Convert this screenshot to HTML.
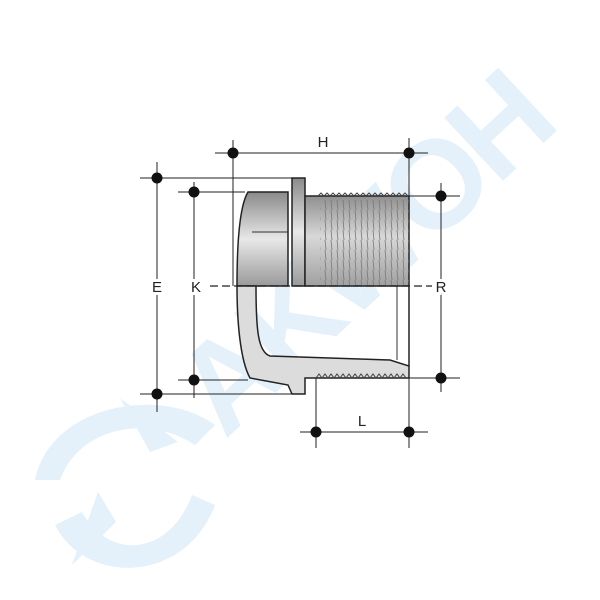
<!DOCTYPE html>
<html><head><style>body{margin:0;background:#fff}svg{display:block}</style></head>
<body>
<svg width="600" height="600" viewBox="0 0 600 600" xmlns="http://www.w3.org/2000/svg" font-family="Liberation Sans, sans-serif">
<defs>
<linearGradient id="nut" x1="0" x2="0" y1="0" y2="1"><stop offset="0" stop-color="#8a8a8a"/><stop offset="0.5" stop-color="#e8e8e8"/><stop offset="1" stop-color="#9a9a9a"/></linearGradient>
<linearGradient id="thr" x1="0" x2="0" y1="0" y2="1"><stop offset="0" stop-color="#909090"/><stop offset="0.45" stop-color="#d8d8d8"/><stop offset="1" stop-color="#a0a0a0"/></linearGradient>
<pattern id="th" width="6" height="10" patternUnits="userSpaceOnUse"><line x1="1" y1="0" x2="2" y2="10" stroke="#777" stroke-width="0.8"/></pattern>
</defs>
<!-- watermark -->
<g fill="#e4f1fa">
<text x="0" y="0" font-size="125" font-weight="bold" transform="translate(225,440) rotate(-43)" letter-spacing="-6">AKWOH</text>
<path d="M35 480 C50 405 160 385 215 425 L195 445 C150 415 80 425 60 480 Z"/>
<path d="M55 525 C85 585 185 585 215 505 L192 495 C170 555 110 562 82 512 Z"/>
<path d="M120 398 L178 442 L150 452 Z"/>
<path d="M72 565 L98 492 L116 522 Z"/>
</g>
<g stroke="#222" stroke-width="1" fill="none">
<line x1="215" y1="153" x2="428" y2="153"/>
<line x1="233" y1="140" x2="233" y2="286"/>
<line x1="409" y1="138" x2="409" y2="448"/>
<line x1="157" y1="162" x2="157" y2="412"/>
<line x1="140" y1="178" x2="292" y2="178"/>
<line x1="140" y1="394" x2="292" y2="394"/>
<line x1="194" y1="182" x2="194" y2="398"/>
<line x1="178" y1="192" x2="245" y2="192"/>
<line x1="178" y1="380" x2="248" y2="380"/>
<line x1="441" y1="183" x2="441" y2="392"/>
<line x1="409" y1="196" x2="460" y2="196"/>
<line x1="409" y1="378" x2="460" y2="378"/>
<line x1="316" y1="378" x2="316" y2="448"/>
<line x1="300" y1="432" x2="428" y2="432"/>
</g>
<path d="M248 192 L288 192 L288 286 L237 286 C237 240 240 205 248 192 Z" fill="url(#nut)" stroke="#222" stroke-width="1.5"/>
<line x1="288" y1="232" x2="252" y2="232" stroke="#333"/>
<rect x="292" y="178" width="13" height="108" fill="url(#nut)" stroke="#222" stroke-width="1.5"/>
<rect x="305" y="196" width="104" height="90" fill="url(#thr)" stroke="#222" stroke-width="1.5"/>
<rect x="320" y="200" width="89" height="86" fill="url(#th)"/>
<path d="M318 196 l3 -3 l3 3 l3 -3 l3 3 l3 -3 l3 3 l3 -3 l3 3 l3 -3 l3 3 l3 -3 l3 3 l3 -3 l3 3 l3 -3 l3 3 l3 -3 l3 3 l3 -3 l3 3 l3 -3 l3 3 l3 -3 l3 3 l3 -3 l3 3 l3 -3 l3 3 l3 -3 l3 3" fill="none" stroke="#444"/>
<path d="M237 286 L256 286 C256 330 258 352 270 356 L390 360 L409 366 L409 378 L316 378 L305 378 L305 394 L292 394 L288 385 L250 378 C240 360 237 320 237 286 Z" fill="#dcdcdc" stroke="#222" stroke-width="1.5"/>
<path d="M316 378 l3 -4 l3 4 l3 -4 l3 4 l3 -4 l3 4 l3 -4 l3 4 l3 -4 l3 4 l3 -4 l3 4 l3 -4 l3 4 l3 -4 l3 4 l3 -4 l3 4 l3 -4 l3 4 l3 -4 l3 4 l3 -4 l3 4 l3 -4 l3 4 l3 -4 l3 4 l3 -4 l3 4" fill="none" stroke="#444"/>
<line x1="397" y1="286" x2="397" y2="360" stroke="#333"/>
<line x1="409" y1="286" x2="409" y2="366" stroke="#222" stroke-width="1.5"/>
<line x1="210" y1="286" x2="432" y2="286" stroke="#222" stroke-width="1.2" stroke-dasharray="8,4"/>
<g fill="#111">
<circle cx="233" cy="153" r="5.5"/><circle cx="409" cy="153" r="5.5"/>
<circle cx="157" cy="178" r="5.5"/><circle cx="157" cy="394" r="5.5"/>
<circle cx="194" cy="192" r="5.5"/><circle cx="194" cy="380" r="5.5"/>
<circle cx="441" cy="196" r="5.5"/><circle cx="441" cy="378" r="5.5"/>
<circle cx="316" cy="432" r="5.5"/><circle cx="409" cy="432" r="5.5"/>
</g>
<g font-size="15" fill="#222" text-anchor="middle" stroke="#fff" stroke-width="6" paint-order="stroke">
<text x="323" y="147">H</text>
<text x="157" y="292">E</text>
<text x="196" y="292">K</text>
<text x="441" y="292">R</text>
<text x="362" y="426">L</text>
</g>
</svg>
</body></html>
